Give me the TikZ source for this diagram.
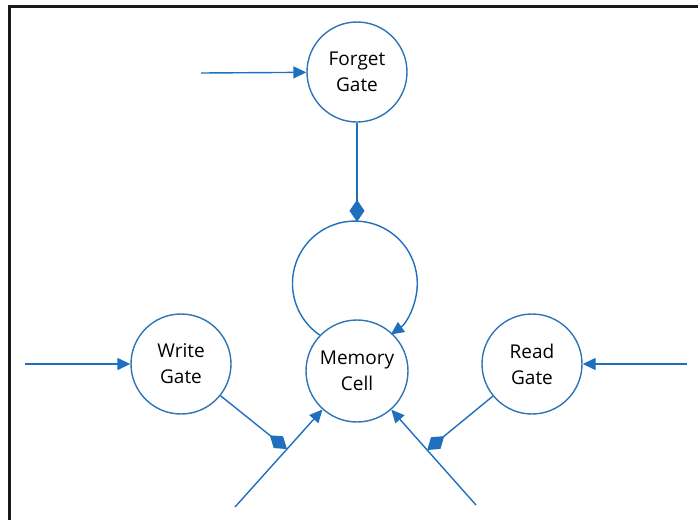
\documentclass[tikz,border=0pt]{standalone}
\usepackage{fontspec}
\setmainfont{Open Sans}
\usetikzlibrary{arrows.meta,calc}
\definecolor{blu}{RGB}{30,112,190}
\definecolor{cblu}{RGB}{46,117,182}
\tikzset{
  gate/.style={circle,draw=cblu,line width=1.4pt,minimum size=100pt,inner sep=0pt,
    align=center,font=\fontsize{19}{26}\selectfont,text=black},
  arr/.style={draw=blu,line width=1.4pt,-{Triangle[length=13pt,width=12pt]},fill=none},
  dia/.style={draw=blu,line width=1.4pt,-{Diamond[length=22pt,width=15pt]}},
}
\begin{document}
\begin{tikzpicture}[x=1pt,y=1pt]
\useasboundingbox (0,0) rectangle (698,-520);
% frame
\draw[line width=3pt,black!90] (698,-6.6) -- (9.6,-6.6) -- (9.6,-520);
% nodes
\node[gate] (forget) at (357,-72) {Forget\\Gate};
\node[gate] (write) at (181,-364) {Write\\Gate};
\node[gate,minimum size=102pt] (cell) at (357,-371) {Memory\\Cell};
\node[gate] (read) at (532,-364) {Read\\Gate};
% free ends
\coordinate (fin) at (201,-73);
\coordinate (win) at (25,-364);
\coordinate (rin) at (687,-364);
\coordinate (ll) at (235,-507);
\coordinate (lr) at (476,-505);
\coordinate (wmid) at ($(ll)!0.426!(cell.center)$);
\coordinate (rmid) at ($(lr)!0.41!(cell.center)$);
\coordinate (looptop) at (357,-221.8);
% connectors
\draw[arr] (fin) -- (forget);
\draw[arr] (win) -- (write);
\draw[arr] (rin) -- (read);
\draw[arr] (ll) -- (cell);
\draw[arr] (lr) -- (cell);
\draw[arr] (cell.136.6) arc[start angle=235.8,end angle=-54.8,radius=62.4];
\draw[dia] (forget) -- (looptop);
\draw[dia] (write) -- (wmid);
\draw[dia] (read) -- (rmid);
\end{tikzpicture}
\end{document}
